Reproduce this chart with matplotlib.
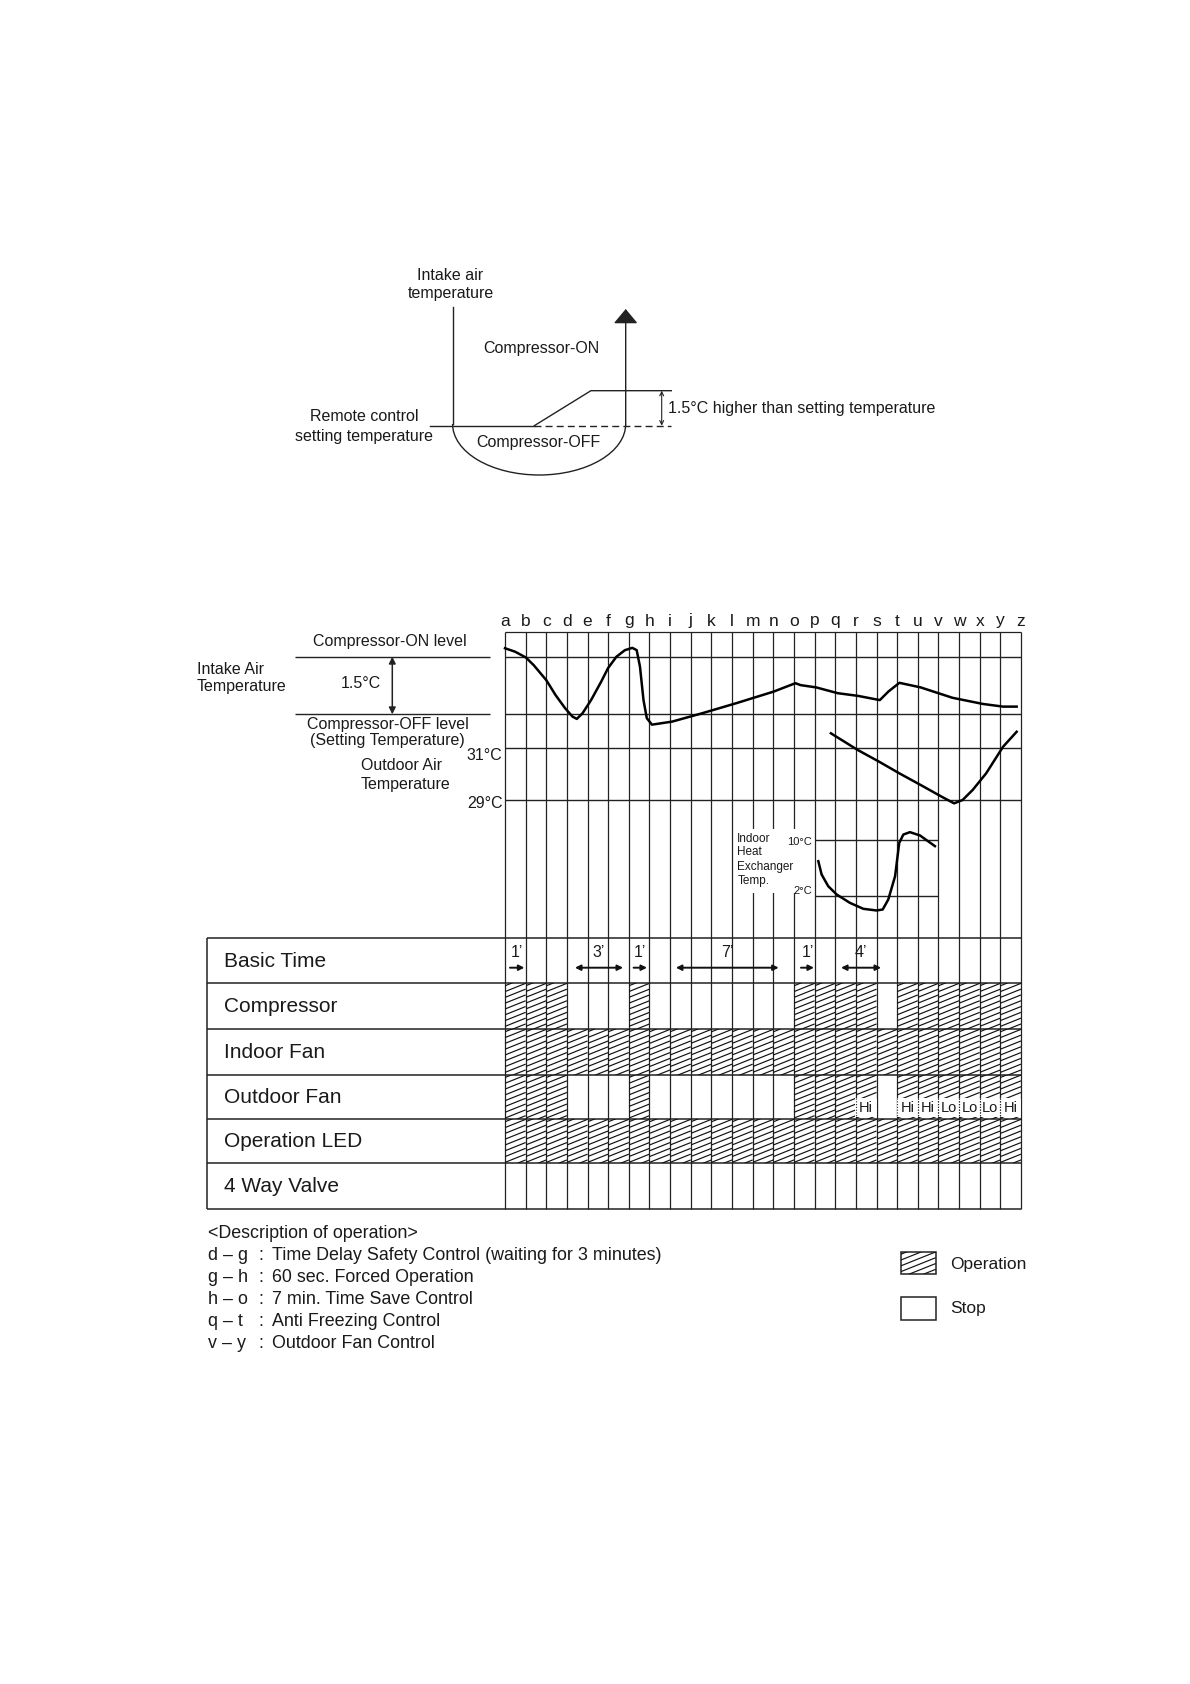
import numpy as np
import matplotlib.pyplot as plt
from matplotlib.patches import Rectangle, Arc
from matplotlib.collections import LineCollection

plt.rcParams['font.family'] = ['Liberation Sans', 'DejaVu Sans']

W, H = 1190, 1684

# ---------------- data ----------------
letters = list('abcdefghijklmnopqrstuvwxyz')

# intake air temperature, degC above setting temperature, vs time column (a=0 ... z=25)
intake_t = [0, 0.49, 1.01, 1.39, 2.0, 2.45, 2.91, 3.27, 3.48, 3.76, 4.17, 4.66, 4.99, 5.4,
            5.81, 6.17, 6.38, 6.54, 6.71, 6.87, 7.12, 8.10, 9.57, 11.21, 13.01, 14.07,
            14.32, 15.08, 16.12, 17.1, 18.16, 18.57, 19.11, 20.14, 21.68, 23.15, 24.13, 24.79]
intake_v = [1.72, 1.63, 1.48, 1.28, 0.89, 0.50, 0.16, -0.06, -0.12, 0.03, 0.37, 0.85, 1.2, 1.5,
            1.67, 1.73, 1.67, 1.24, 0.37, -0.10, -0.27, -0.19, 0.03, 0.29, 0.59, 0.81,
            0.76, 0.70, 0.55, 0.48, 0.37, 0.59, 0.82, 0.70, 0.43, 0.27, 0.20, 0.20]

# outdoor air temperature (degC)
outdoor_t = [15.79, 17.1, 18.13, 19.11, 20.14, 21.15, 21.76, 22.17, 22.66, 23.31, 24.13, 24.79]
outdoor_v = [31.58, 30.93, 30.48, 30.03, 29.58, 29.13, 28.87, 29.0, 29.39, 30.03, 31.06, 31.64]

# indoor heat exchanger temperature (degC)
hex_t = [15.18, 15.34, 15.66, 16.07, 16.71, 17.36, 18.0, 18.3, 18.57, 18.9, 19.1, 19.3,
         19.62, 20.11, 20.83]
hex_v = [6.9, 5.0, 3.33, 2.14, 0.95, 0.10, -0.14, 0.0, 1.43, 4.76, 9.52, 10.71, 11.05,
         10.57, 9.05]

row_names = ['Basic Time', 'Compressor', 'Indoor Fan', 'Outdoor Fan', 'Operation LED', '4 Way Valve']
# 1 = operation, 0 = stop, one entry per interval a-b ... y-z
compressor =     [1, 1, 1, 0, 0, 0, 1, 0, 0, 0, 0, 0, 0, 0, 1, 1, 1, 1, 0, 1, 1, 1, 1, 1, 1]
indoor_fan =     [1, 1, 1, 1, 1, 1, 1, 1, 1, 1, 1, 1, 1, 1, 1, 1, 1, 1, 1, 1, 1, 1, 1, 1, 1]
outdoor_fan =    [1, 1, 1, 0, 0, 0, 1, 0, 0, 0, 0, 0, 0, 0, 1, 1, 1, 1, 0, 1, 1, 1, 1, 1, 1]
operation_led =  [1, 1, 1, 1, 1, 1, 1, 1, 1, 1, 1, 1, 1, 1, 1, 1, 1, 1, 1, 1, 1, 1, 1, 1, 1]
four_way_valve = [0, 0, 0, 0, 0, 0, 0, 0, 0, 0, 0, 0, 0, 0, 0, 0, 0, 0, 0, 0, 0, 0, 0, 0, 0]
states = [compressor, indoor_fan, outdoor_fan, operation_led, four_way_valve]

fan_speed_cols = [17, 19, 20, 21, 22, 23, 24]
fan_speed = ['Hi', 'Hi', 'Hi', 'Lo', 'Lo', 'Lo', 'Hi']

# basic time marks: start col, end col, label, arrow style
bt_start = [0.24, 3.39, 6.23, 8.28, 14.34, 16.28]
bt_end = [0.94, 5.72, 6.88, 13.26, 14.97, 18.22]
bt_label = ['1’', '3’', '1’', '7’', '1’', '4’']
bt_style = ['-|>', '<|-|>', '-|>', '<|-|>', '-|>', '<|-|>']

desc_keys = ['d – g', 'g – h', 'h – o', 'q – t', 'v – y']
desc_text = ['Time Delay Safety Control (waiting for 3 minutes)',
             '60 sec. Forced Operation',
             '7 min. Time Save Control',
             'Anti Freezing Control',
             'Outdoor Fan Control']

# ---------------- layout (pixels) ----------------
GX0, GX1 = 505, 1021
GY0, GY1 = 631.7, 1209.3
ON_Y, OFF_Y = 656.7, 714.3
T31_Y, T29_Y = 748.3, 800
T10_Y, T2_Y = 839.5, 895.5
ROW_Y = [938.3, 983.3, 1029.3, 1075, 1119.3, 1163.3, 1209.3]
TAB_X0 = 207.3
TXT = '#1a1a1a'
LC = '#222222'

fig = plt.figure(figsize=(W / 100, H / 100), dpi=100)
ax = fig.add_axes([0, 0, 1, 1])
ax.set_xlim(0, W)
ax.set_ylim(H, 0)
ax.axis('off')


def px_axes(x0, x1, ytop, ybot, z):
    a = fig.add_axes([x0 / W, 1 - ybot / H, (x1 - x0) / W, (ybot - ytop) / H], zorder=z)
    a.axis('off')
    return a


def hatch(axis, x0, x1, yt, yb, rise, step=5.8, z=2):
    # shallow "/" hatching inside one cell, rise = pixel rise over the cell width
    segs = [[(x0, y), (x1, y - rise)] for y in np.arange(yt + 2.5, yb + rise, step)]
    clip = Rectangle((x0, yt), x1 - x0, yb - yt, transform=axis.transData, fill=False)
    lc = LineCollection(segs, colors='#111111', linewidths=0.85, zorder=z)
    axis.add_collection(lc)
    lc.set_clip_path(clip)


# ---------------- top schematic ----------------
fs = 11.5
LX, RX = 452.6, 625.7
SET_Y, HI_Y = 425.7, 390.7
ax.plot([LX, LX], [306.7, 424], color=LC, lw=1)
ax.add_patch(Arc(((LX + RX) / 2, 424), RX - LX, 102, theta1=0, theta2=180, color=LC, lw=1))
ax.annotate('', xy=(RX, 309), xytext=(RX, 424),
            arrowprops=dict(arrowstyle='-|>,head_length=0.9,head_width=0.75', mutation_scale=10,
                            lw=1, color=LC, shrinkA=0, shrinkB=0))
ax.plot([430, 534.3], [SET_Y, SET_Y], color=LC, lw=1)
ax.plot([534.3, 671.3], [SET_Y, SET_Y], color=LC, lw=1, ls=(0, (5, 3)))
ax.plot([534.3, 590.9, 671.3], [SET_Y, HI_Y, HI_Y], color=LC, lw=1)
ax.annotate('', xy=(661.7, HI_Y), xytext=(661.7, SET_Y),
            arrowprops=dict(arrowstyle='<->', mutation_scale=7, lw=0.8, color=LC,
                            shrinkA=0, shrinkB=0))
ax.text(450.4, 275, 'Intake air', ha='center', va='center', fontsize=fs, color=TXT)
ax.text(450.4, 293.3, 'temperature', ha='center', va='center', fontsize=fs, color=TXT)
ax.text(540.9, 348.3, 'Compressor-ON', ha='center', va='center', fontsize=fs, color=TXT)
ax.text(538.7, 442.7, 'Compressor-OFF', ha='center', va='center', fontsize=fs, color=TXT)
ax.text(363.9, 416.7, 'Remote control', ha='center', va='center', fontsize=fs, color=TXT)
ax.text(363.9, 436, 'setting temperature', ha='center', va='center', fontsize=fs, color=TXT)
ax.text(668.3, 408.3, '1.5°C higher than setting temperature', ha='left', va='center',
        fontsize=fs, color=TXT)

# ---------------- timing chart: left labels ----------------
ax.hlines([ON_Y, OFF_Y], 295, 490, color=LC, lw=1)
ax.text(390, 641.7, 'Compressor-ON level', ha='center', va='center', fontsize=fs, color=TXT)
ax.text(196.7, 669, 'Intake Air', ha='left', va='center', fontsize=fs, color=TXT)
ax.text(196.7, 687, 'Temperature', ha='left', va='center', fontsize=fs, color=TXT)
ax.text(361, 683, '1.5°C', ha='center', va='center', fontsize=fs, color=TXT)
ax.annotate('', xy=(392.3, ON_Y), xytext=(392.3, OFF_Y),
            arrowprops=dict(arrowstyle='<|-|>', mutation_scale=10, lw=1.1, color=LC,
                            shrinkA=0, shrinkB=0))
ax.text(388, 724.3, 'Compressor-OFF level', ha='center', va='center', fontsize=fs, color=TXT)
ax.text(387, 740.7, '(Setting Temperature)', ha='center', va='center', fontsize=fs, color=TXT)
ax.text(502.5, 755, '31°C', ha='right', va='center', fontsize=fs, color=TXT)
ax.text(361, 765.7, 'Outdoor Air', ha='left', va='center', fontsize=fs, color=TXT)
ax.text(361, 784.3, 'Temperature', ha='left', va='center', fontsize=fs, color=TXT)
ax.text(502.5, 804, '29°C', ha='right', va='center', fontsize=fs, color=TXT)

# ---------------- grid + table ----------------
gx = px_axes(GX0, GX1, GY0, GY1, 1)
gx.set_xlim(0, 25)
gx.set_ylim(GY1, GY0)
gx.vlines(range(26), GY0, GY1, color=LC, lw=0.9, clip_on=False)
gx.hlines(GY0, 0, 25, color=LC, lw=0.9, clip_on=False)
for i, ch in enumerate(letters):
    gx.text(i, 625.5, ch, ha='center', va='baseline', fontsize=12.5, color=TXT, clip_on=False)

ax.hlines(ROW_Y, TAB_X0, GX1, color=LC, lw=1.1)
ax.vlines(TAB_X0, ROW_Y[0], ROW_Y[-1], color=LC, lw=1.1)
for r, name in enumerate(row_names):
    ax.text(224.3, (ROW_Y[r] + ROW_Y[r + 1]) / 2 + 0.5, name, ha='left', va='center',
            fontsize=15, color=TXT)

rise = 0.4 * (GX1 - GX0) / 25
for r, st in enumerate(states):
    yt, yb = ROW_Y[r + 1], ROW_Y[r + 2]
    for c, on in enumerate(st):
        if on:
            hatch(gx, c, c + 1, yt, yb, rise)

for c, lab in zip(fan_speed_cols, fan_speed):
    gx.add_patch(Rectangle((c - 0.03, 1098.5), 1.06, 18.5, facecolor='white',
                           edgecolor='none', zorder=4))
    gx.vlines([c, c + 1], 1098.5, 1117, color=LC, lw=0.8, ls=(0, (1, 1.5)), zorder=5)
    gx.text(c + 0.5, 1107.8, lab, ha='center', va='center', fontsize=10.5, color=TXT, zorder=6)

for s, e, lab, sty in zip(bt_start, bt_end, bt_label, bt_style):
    gx.text((s + e) / 2, 952.7, lab, ha='center', va='center', fontsize=11.5, color=TXT)
    gx.annotate('', xy=(e, 967.7), xytext=(s, 967.7),
                arrowprops=dict(arrowstyle=sty, mutation_scale=8, lw=1.4, color='#111111',
                                shrinkA=0, shrinkB=0))

# ---------------- curves ----------------
ia = px_axes(GX0, GX1, ON_Y, OFF_Y, 3)
ia.set_xlim(0, 25)
ia.set_ylim(0, 1.5)
ia.hlines([0, 1.5], 0, 25, color=LC, lw=1, clip_on=False)
ia.plot(intake_t, intake_v, color='black', lw=1.8, clip_on=False, solid_joinstyle='round')

oa = px_axes(GX0, GX1, T31_Y, T29_Y, 3)
oa.set_xlim(0, 25)
oa.set_ylim(29, 31)
oa.hlines([29, 31], 0, 25, color=LC, lw=1, clip_on=False)
oa.plot(outdoor_t, outdoor_v, color='black', lw=1.8, clip_on=False, solid_joinstyle='round')

ha = px_axes(GX0, GX1, T10_Y, T2_Y, 3)
ha.set_xlim(0, 25)
ha.set_ylim(2, 10)
ha.add_patch(Rectangle((734, 829), 79, 64, transform=ax.transData, facecolor='white',
                       edgecolor='none', clip_on=False, zorder=1))
ha.hlines([2, 10], 15, 21, color=LC, lw=1, clip_on=False)
ha.plot(hex_t, hex_v, color='black', lw=1.8, clip_on=False, solid_joinstyle='round')
for y, s in zip([839, 852.3, 866.7, 880.7], ['Indoor', 'Heat', 'Exchanger', 'Temp.']):
    ha.text(737.3, y, s, ha='left', va='center', fontsize=8.5, color=TXT,
            transform=ax.transData, zorder=3)
ha.text(812, 842, '10°C', ha='right', va='center', fontsize=8, color=TXT,
        transform=ax.transData, zorder=3)
ha.text(812, 890.7, '2°C', ha='right', va='center', fontsize=8, color=TXT,
        transform=ax.transData, zorder=3)

# ---------------- description + legend ----------------
dfs = 12.9
ax.text(208, 1233.5, '<Description of operation>', ha='left', va='center', fontsize=dfs, color=TXT)
for k, (key, txt) in enumerate(zip(desc_keys, desc_text)):
    y = 1255.5 + 22 * k
    ax.text(208, y, key, ha='left', va='center', fontsize=dfs, color=TXT)
    ax.text(258, y, ':', ha='left', va='center', fontsize=dfs, color=TXT)
    ax.text(272, y, txt, ha='left', va='center', fontsize=dfs, color=TXT)

ax.add_patch(Rectangle((901, 1251.7), 34.7, 22.6, fill=False, edgecolor=LC, lw=1.1))
hatch(ax, 901, 935.7, 1251.7, 1274.3, 0.4 * 34.7)
ax.text(950, 1264, 'Operation', ha='left', va='center', fontsize=12.5, color=TXT)
ax.add_patch(Rectangle((901, 1296.7), 34.7, 23.3, fill=False, edgecolor=LC, lw=1.1))
ax.text(950, 1309, 'Stop', ha='left', va='center', fontsize=12.5, color=TXT)

fig.savefig('out.png', dpi=100, facecolor='white')
